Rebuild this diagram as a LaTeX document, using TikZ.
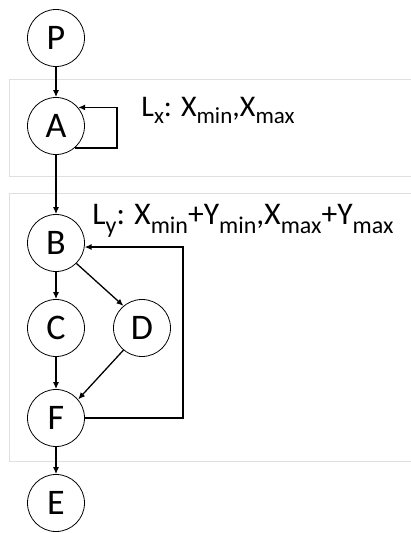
\documentclass[tikz,border=0pt]{standalone}
\usepackage{fontspec}
\setmainfont{Carlito}
\usetikzlibrary{arrows.meta}
\newcommand{\lsub}[3]{\raisebox{-#1}{\fontsize{#2}{#2}\selectfont #3}}
\begin{document}
\begin{tikzpicture}[x=1pt, y=-1pt, every node/.style={circle, draw, line width=0.8pt, minimum size=57pt, inner sep=0pt, font=\fontsize{36}{37}\selectfont}, every path/.style={line width=1.3pt}, arr/.style={-{Latex[length=7pt,width=6pt]}}, lbl/.style={draw=none, rectangle, anchor=base west, inner sep=0pt}]
			\useasboundingbox (0,0) rectangle (410,533);
			\draw[gray!25, line width=1pt] (412,79) -- (9,79) -- (9,176) -- (412,176);
			\draw[gray!25, line width=1pt] (412,193) -- (9,193) -- (9,461) -- (412,461);
			\node (P) at (56,38) {P};
			\node (A) at (56,126) {A};
			\node (B) at (56,243) {B};
			\node (C) at (56,328) {C};
			\node (D) at (142,328) {D};
			\node (F) at (56,418) {F};
			\node (E) at (56,503) {E};
			\node[lbl, font=\fontsize{30}{31}\selectfont] (lx) at (141,116) {L\lsub{7pt}{23}{x}: X\lsub{7pt}{23}{min},X\lsub{7pt}{23}{max}};
			\node[lbl, font=\fontsize{31.5}{32}\selectfont] (ly) at (92,224) {L\lsub{9pt}{24}{y}: X\lsub{9pt}{24}{min}+Y\lsub{9pt}{24}{min},X\lsub{9pt}{24}{max}+Y\lsub{9pt}{24}{max}};
			\coordinate (la) at (117,126);
			\coordinate (lf) at (183,330);
			\draw[arr] (P)--(A);
			\draw[arr] (A.-50) -| (la) |- (A.40);
			\draw[arr] (A)--(B);
			\draw[arr] (B)--(C);
			\draw[arr] (B.-45)--(D.130);
			\draw[arr] (C)--(F);
			\draw[arr] (D.-130)--(F.40);
			\draw[arr] (F.east) -| (lf) |- (B.-8);
			\draw[arr] (F)--(E);
		\end{tikzpicture}
\end{document}
